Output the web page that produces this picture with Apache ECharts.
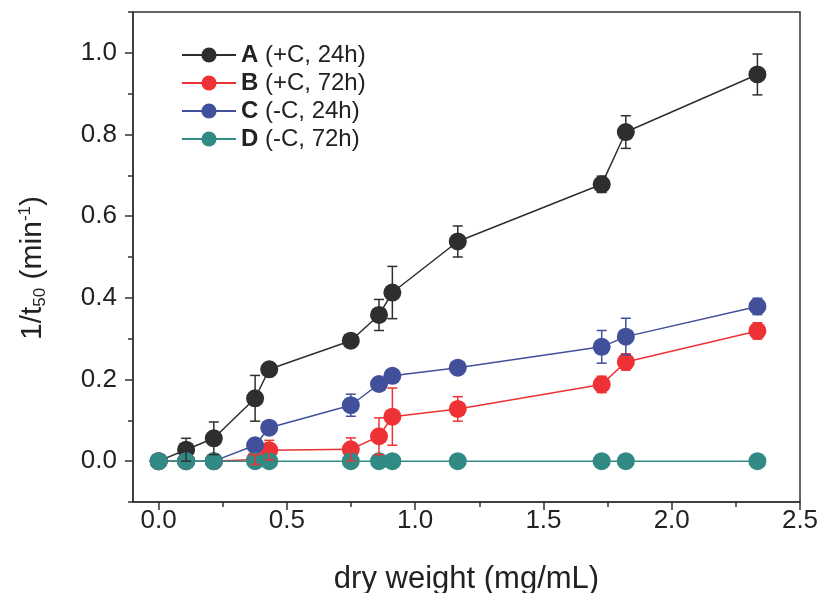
<!DOCTYPE html>
<html><head><meta charset="utf-8">
<script src="https://cdn.jsdelivr.net/npm/echarts@6/dist/echarts.min.js"></script>
<style>html,body{margin:0;padding:0;background:#fff}#c{width:819px;height:593px}</style>
</head><body><div id="c"></div>
<script>
const xValues = [0, 0.107, 0.215, 0.376, 0.431, 0.749, 0.859, 0.911, 1.166, 1.727, 1.821, 2.334];
const seriesNames = ['A (+C, 24h)', 'B (+C, 72h)', 'C (-C, 24h)', 'D (-C, 72h)'];
const valuesA = [0, 0.028, 0.056, 0.154, 0.225, 0.295, 0.358, 0.413, 0.538, 0.678, 0.806, 0.947];
const errA    = [0, 0.028, 0.040, 0.056, 0, 0, 0.038, 0.064, 0.038, 0.02, 0.040, 0.050];
const valuesB = [0, 0, 0, 0.004, 0.027, 0.029, 0.061, 0.109, 0.128, 0.188, 0.243, 0.319];
const errB    = [0, 0, 0, 0.012, 0.024, 0.028, 0.045, 0.070, 0.030, 0.02, 0.02, 0.02];
const valuesC = [0, 0, 0, 0.039, 0.082, 0.137, 0.189, 0.209, 0.229, 0.280, 0.305, 0.379];
const errC    = [0, 0, 0, 0, 0, 0.027, 0, 0, 0, 0.040, 0.045, 0.02];
const valuesD = [0, 0, 0, 0, 0, 0, 0, 0, 0, 0, 0, 0];
const xTickLabels = [0, 0.5, 1.0, 1.5, 2.0, 2.5];
const xMinorTicks = [0.25, 0.75, 1.25, 1.75, 2.25];
const yTickLabels = [0, 0.2, 0.4, 0.6, 0.8, 1.0];
const yMinorTicks = [-0.1, 0.1, 0.3, 0.5, 0.7, 0.9, 1.1];

const colors = ['#2e2e2e', '#ee3135', '#42509b', '#318a84'];
const allValues = [valuesA, valuesB, valuesC, valuesD];
const allErrs = [errA, errB, errC, null];

const chart = echarts.init(document.getElementById('c'), null, {renderer: 'canvas'});
const font = 'Liberation Sans, Arial, sans-serif';

function errRender(color) {
  return function (params, api) {
    const x = api.value(0), lo = api.value(1), hi = api.value(2);
    const p1 = api.coord([x, lo]), p2 = api.coord([x, hi]);
    const w = 5;
    const st = {stroke: color, lineWidth: 1.5};
    return {type: 'group', children: [
      {type: 'line', shape: {x1: p1[0], y1: p1[1], x2: p2[0], y2: p2[1]}, style: st},
      {type: 'line', shape: {x1: p1[0] - w, y1: p1[1], x2: p1[0] + w, y2: p1[1]}, style: st},
      {type: 'line', shape: {x1: p2[0] - w, y1: p2[1], x2: p2[0] + w, y2: p2[1]}, style: st}
    ]};
  };
}

const series = [];
allValues.forEach((vals, i) => {
  series.push({
    name: seriesNames[i], type: 'line', xAxisIndex: 0, yAxisIndex: 0,
    data: xValues.map((x, j) => [x, vals[j]]),
    symbol: 'circle', symbolSize: 18,
    itemStyle: {color: colors[i]},
    lineStyle: {color: colors[i], width: 1.5},
    z: 2 + i, animation: false
  });
});
allErrs.forEach((errs, i) => {
  if (!errs) return;
  const d = [];
  xValues.forEach((x, j) => { if (errs[j] > 0) d.push([x, allValues[i][j] - errs[j], allValues[i][j] + errs[j]]); });
  series.push({
    type: 'custom', xAxisIndex: 0, yAxisIndex: 0, data: d,
    renderItem: errRender(colors[i]), encode: {x: 0, y: [1, 2]},
    z: 10, animation: false, silent: true
  });
});

const axisLineStyle = {color: '#333', width: 1.5};
chart.setOption({
  backgroundColor: '#fff',
  animation: false,
  grid: {left: 133, right: 19, top: 12, bottom: 91, show: true, borderColor: '#333', borderWidth: 1.5,
         containLabel: false, outerBoundsMode: 'none'},
  legend: {
    orient: 'vertical', left: 176, top: 38, itemWidth: 54, itemHeight: 19, itemGap: 4,
    data: seriesNames,
    textStyle: {fontSize: 24, color: '#222', fontFamily: font, rich: {b: {fontSize: 24, fontWeight: 'bold', color: '#222', fontFamily: font}}},
    formatter: function (name) { const k = name.indexOf(' '); return '{b|' + name.slice(0, k) + '}' + name.slice(k); }
  },
  xAxis: [{
    type: 'value', min: -0.1, max: 2.5, position: 'bottom',
    axisLine: {show: true, onZero: false, lineStyle: axisLineStyle},
    axisTick: {show: true, inside: false, length: 8, customValues: xTickLabels, lineStyle: axisLineStyle},
    axisLabel: {customValues: xTickLabels, formatter: v => v.toFixed(1), fontSize: 26, color: '#222', margin: 6, fontFamily: font},
    splitLine: {show: false},
    name: 'dry weight (mg/mL)', nameLocation: 'middle', nameGap: 62,
    nameTextStyle: {fontSize: 31, color: '#222', fontFamily: font}
  }, {
    type: 'value', min: -0.1, max: 2.5, position: 'bottom',
    axisLine: {show: false, onZero: false},
    axisTick: {show: true, inside: false, length: 5, customValues: xMinorTicks, lineStyle: axisLineStyle},
    axisLabel: {show: false}, splitLine: {show: false}
  }],
  yAxis: [{
    type: 'value', min: -0.1, max: 1.1, position: 'left',
    axisLine: {show: true, onZero: false, lineStyle: axisLineStyle},
    axisTick: {show: true, inside: false, length: 8, customValues: yTickLabels, lineStyle: axisLineStyle},
    axisLabel: {customValues: yTickLabels, formatter: v => v.toFixed(1), fontSize: 26, color: '#222', margin: 16, fontFamily: font},
    splitLine: {show: false},
    name: '{a|1/t}{s|50}{a| (min}{p|-1}{a|)}', nameLocation: 'middle', nameGap: 84, nameRotate: 90,
    nameTextStyle: {fontSize: 30, color: '#222', fontFamily: font, padding: [0, 22, 0, 0], rich: {
      a: {fontSize: 30, lineHeight: 32, color: '#222', fontFamily: font},
      s: {fontSize: 17, lineHeight: 17, verticalAlign: 'bottom', color: '#222', fontFamily: font},
      p: {fontSize: 17, lineHeight: 17, verticalAlign: 'top', color: '#222', fontFamily: font}
    }}
  }, {
    type: 'value', min: -0.1, max: 1.1, position: 'left',
    axisLine: {show: false, onZero: false},
    axisTick: {show: true, inside: false, length: 5, customValues: yMinorTicks, lineStyle: axisLineStyle},
    axisLabel: {show: false}, splitLine: {show: false}
  }],
  series: series
});
</script>
</body></html>
